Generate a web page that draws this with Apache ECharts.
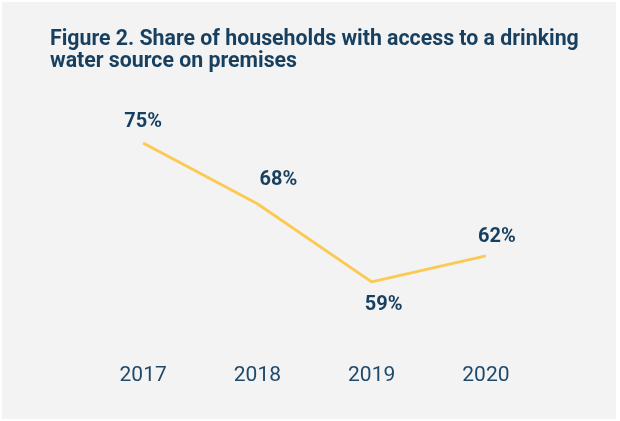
<!DOCTYPE html>
<html>
<head>
<meta charset="utf-8">
<script src="https://cdn.jsdelivr.net/npm/echarts@6/dist/echarts.min.js"></script>
<style>
html,body{margin:0;padding:0;background:#ffffff;}
#c{position:absolute;left:2px;top:2px;width:614px;height:417px;background:#f3f3f3;}
</style>
</head>
<body>
<div id="c"></div>
<script>
var years = ['2017', '2018', '2019', '2020'];
var shares = [75, 68, 59, 62];
var labelOffsets = [[0, -11], [21, -14], [12, 33], [11, -9]];

var chart = echarts.init(document.getElementById('c'), null, {renderer: 'canvas'});
var textColor = '#173f5f';
chart.setOption({
  backgroundColor: '#f3f3f3',
  title: {
    text: 'Figure 2. Share of households with access to a drinking\nwater source on premises',
    left: 43,
    top: 22,
    textStyle: {
      fontFamily: 'Roboto',
      fontWeight: 'bold',
      fontSize: 21.3,
      lineHeight: 22,
      color: textColor
    }
  },
  grid: {left: 84, right: 73, top: 97.6, bottom: 59},
  xAxis: {
    type: 'category',
    data: years,
    boundaryGap: true,
    axisLine: {show: false},
    axisTick: {show: false},
    axisLabel: {
      margin: 5,
      fontFamily: 'Roboto',
      fontSize: 21,
      color: '#1f4a6b'
    }
  },
  yAxis: {
    type: 'value',
    min: 50,
    max: 80,
    show: false
  },
  series: [{
    type: 'line',
    data: shares.map(function (v, i) {
      return {
        value: v,
        label: {offset: labelOffsets[i]}
      };
    }),
    symbol: 'circle',
    symbolSize: 0.1,
    showSymbol: true,
    itemStyle: {color: '#fcc953'},
    lineStyle: {color: '#fcc953', width: 3},
    label: {
      show: true,
      position: 'top',
      distance: 0,
      formatter: '{c}%',
      fontFamily: 'Roboto',
      fontWeight: 'bold',
      fontSize: 20,
      color: textColor
    },
    animation: false
  }]
});
</script>
</body>
</html>
